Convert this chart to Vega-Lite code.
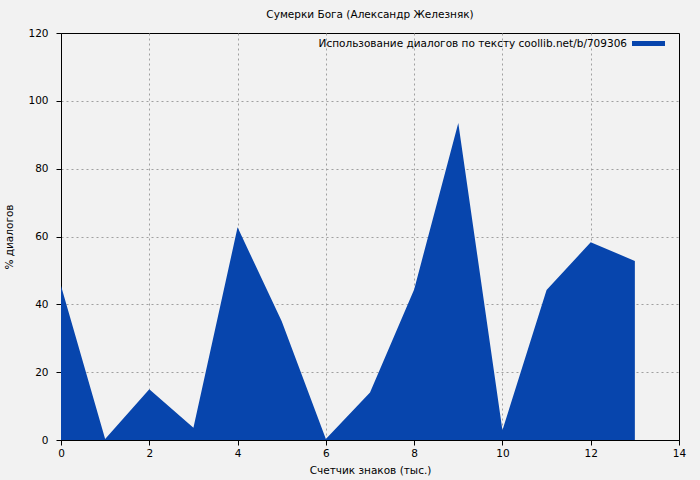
{
  "$schema": "https://vega.github.io/schema/vega-lite/v6.json",
  "width": 618,
  "height": 407,
  "autosize": {"type": "none"},
  "padding": {"left": 61, "top": 33, "right": 21, "bottom": 40},
  "background": "#f2f2f2",
  "title": {
    "text": "Сумерки Бога (Александр Железняк)",
    "anchor": "middle",
    "frame": "group",
    "font": "DejaVu Sans",
    "fontSize": 10.5,
    "fontWeight": "normal",
    "color": "#000000",
    "offset": 7
  },
  "config": {
    "view": {"stroke": "#000000", "strokeWidth": 1, "fill": "#f2f2f2"},
    "font": "DejaVu Sans",
    "axis": {
      "labelFont": "DejaVu Sans",
      "labelFontSize": 10.5,
      "labelColor": "#000000",
      "titleFont": "DejaVu Sans",
      "titleFontSize": 10.5,
      "titleFontWeight": "normal",
      "titleColor": "#000000",
      "domainColor": "#000000",
      "tickColor": "#000000",
      "tickSize": 5,
      "gridColor": "#a0a0a0",
      "gridDash": [2, 3],
      "gridWidth": 1
    }
  },
  "data": {
    "values": [
      {"x": 0, "y": 45.5, "s": "Использование диалогов по тексту coollib.net/b/709306"},
      {"x": 1, "y": 0.3, "s": "Использование диалогов по тексту coollib.net/b/709306"},
      {"x": 2, "y": 15.0, "s": "Использование диалогов по тексту coollib.net/b/709306"},
      {"x": 3, "y": 3.6, "s": "Использование диалогов по тексту coollib.net/b/709306"},
      {"x": 4, "y": 62.7, "s": "Использование диалогов по тексту coollib.net/b/709306"},
      {"x": 5, "y": 35.0, "s": "Использование диалогов по тексту coollib.net/b/709306"},
      {"x": 6, "y": 0.3, "s": "Использование диалогов по тексту coollib.net/b/709306"},
      {"x": 7, "y": 14.0, "s": "Использование диалогов по тексту coollib.net/b/709306"},
      {"x": 8, "y": 44.4, "s": "Использование диалогов по тексту coollib.net/b/709306"},
      {"x": 9, "y": 93.5, "s": "Использование диалогов по тексту coollib.net/b/709306"},
      {"x": 10, "y": 2.9, "s": "Использование диалогов по тексту coollib.net/b/709306"},
      {"x": 11, "y": 44.2, "s": "Использование диалогов по тексту coollib.net/b/709306"},
      {"x": 12, "y": 58.3, "s": "Использование диалогов по тексту coollib.net/b/709306"},
      {"x": 13, "y": 52.8, "s": "Использование диалогов по тексту coollib.net/b/709306"}
    ]
  },
  "mark": {"type": "area", "interpolate": "linear", "opacity": 1},
  "encoding": {
    "x": {
      "field": "x",
      "type": "quantitative",
      "scale": {"domain": [0, 14], "nice": false, "zero": false},
      "axis": {
        "title": "Счетчик знаков (тыс.)",
        "values": [0, 2, 4, 6, 8, 10, 12, 14],
        "labelPadding": 3,
        "labelFlush": false,
        "gridOpacity": {"condition": {"test": "datum.value == 0 || datum.value == 14", "value": 0}, "value": 1},
        "titleX": 309,
        "titleY": 30,
        "titleBaseline": "middle",
        "titleAnchor": null
      }
    },
    "y": {
      "field": "y",
      "type": "quantitative",
      "scale": {"domain": [0, 120], "nice": false},
      "axis": {
        "title": "% диалогов",
        "values": [0, 20, 40, 60, 80, 100, 120],
        "labelPadding": 8,
        "labelFlush": false,
        "gridOpacity": {"condition": {"test": "datum.value == 0 || datum.value == 120", "value": 0}, "value": 1},
        "titleX": -52,
        "titleY": 203.5,
        "titleAngle": 270,
        "titleAlign": "center",
        "titleBaseline": "middle"
      }
    },
    "color": {
      "field": "s",
      "type": "nominal",
      "scale": {"range": ["#0745ad"]},
      "legend": {
        "title": null,
        "orient": "none",
        "legendX": 571,
        "legendY": -6,
        "padding": 0,
        "symbolType": "M-1,-0.15L1,-0.15L1,0.15L-1,0.15Z",
        "symbolSize": 1089,
        "symbolStrokeWidth": 0,
        "labelAlign": "right",
        "labelOffset": -38,
        "labelFont": "DejaVu Sans",
        "labelFontSize": 10.5,
        "labelColor": "#000000",
        "labelLimit": 500
      }
    }
  }
}
